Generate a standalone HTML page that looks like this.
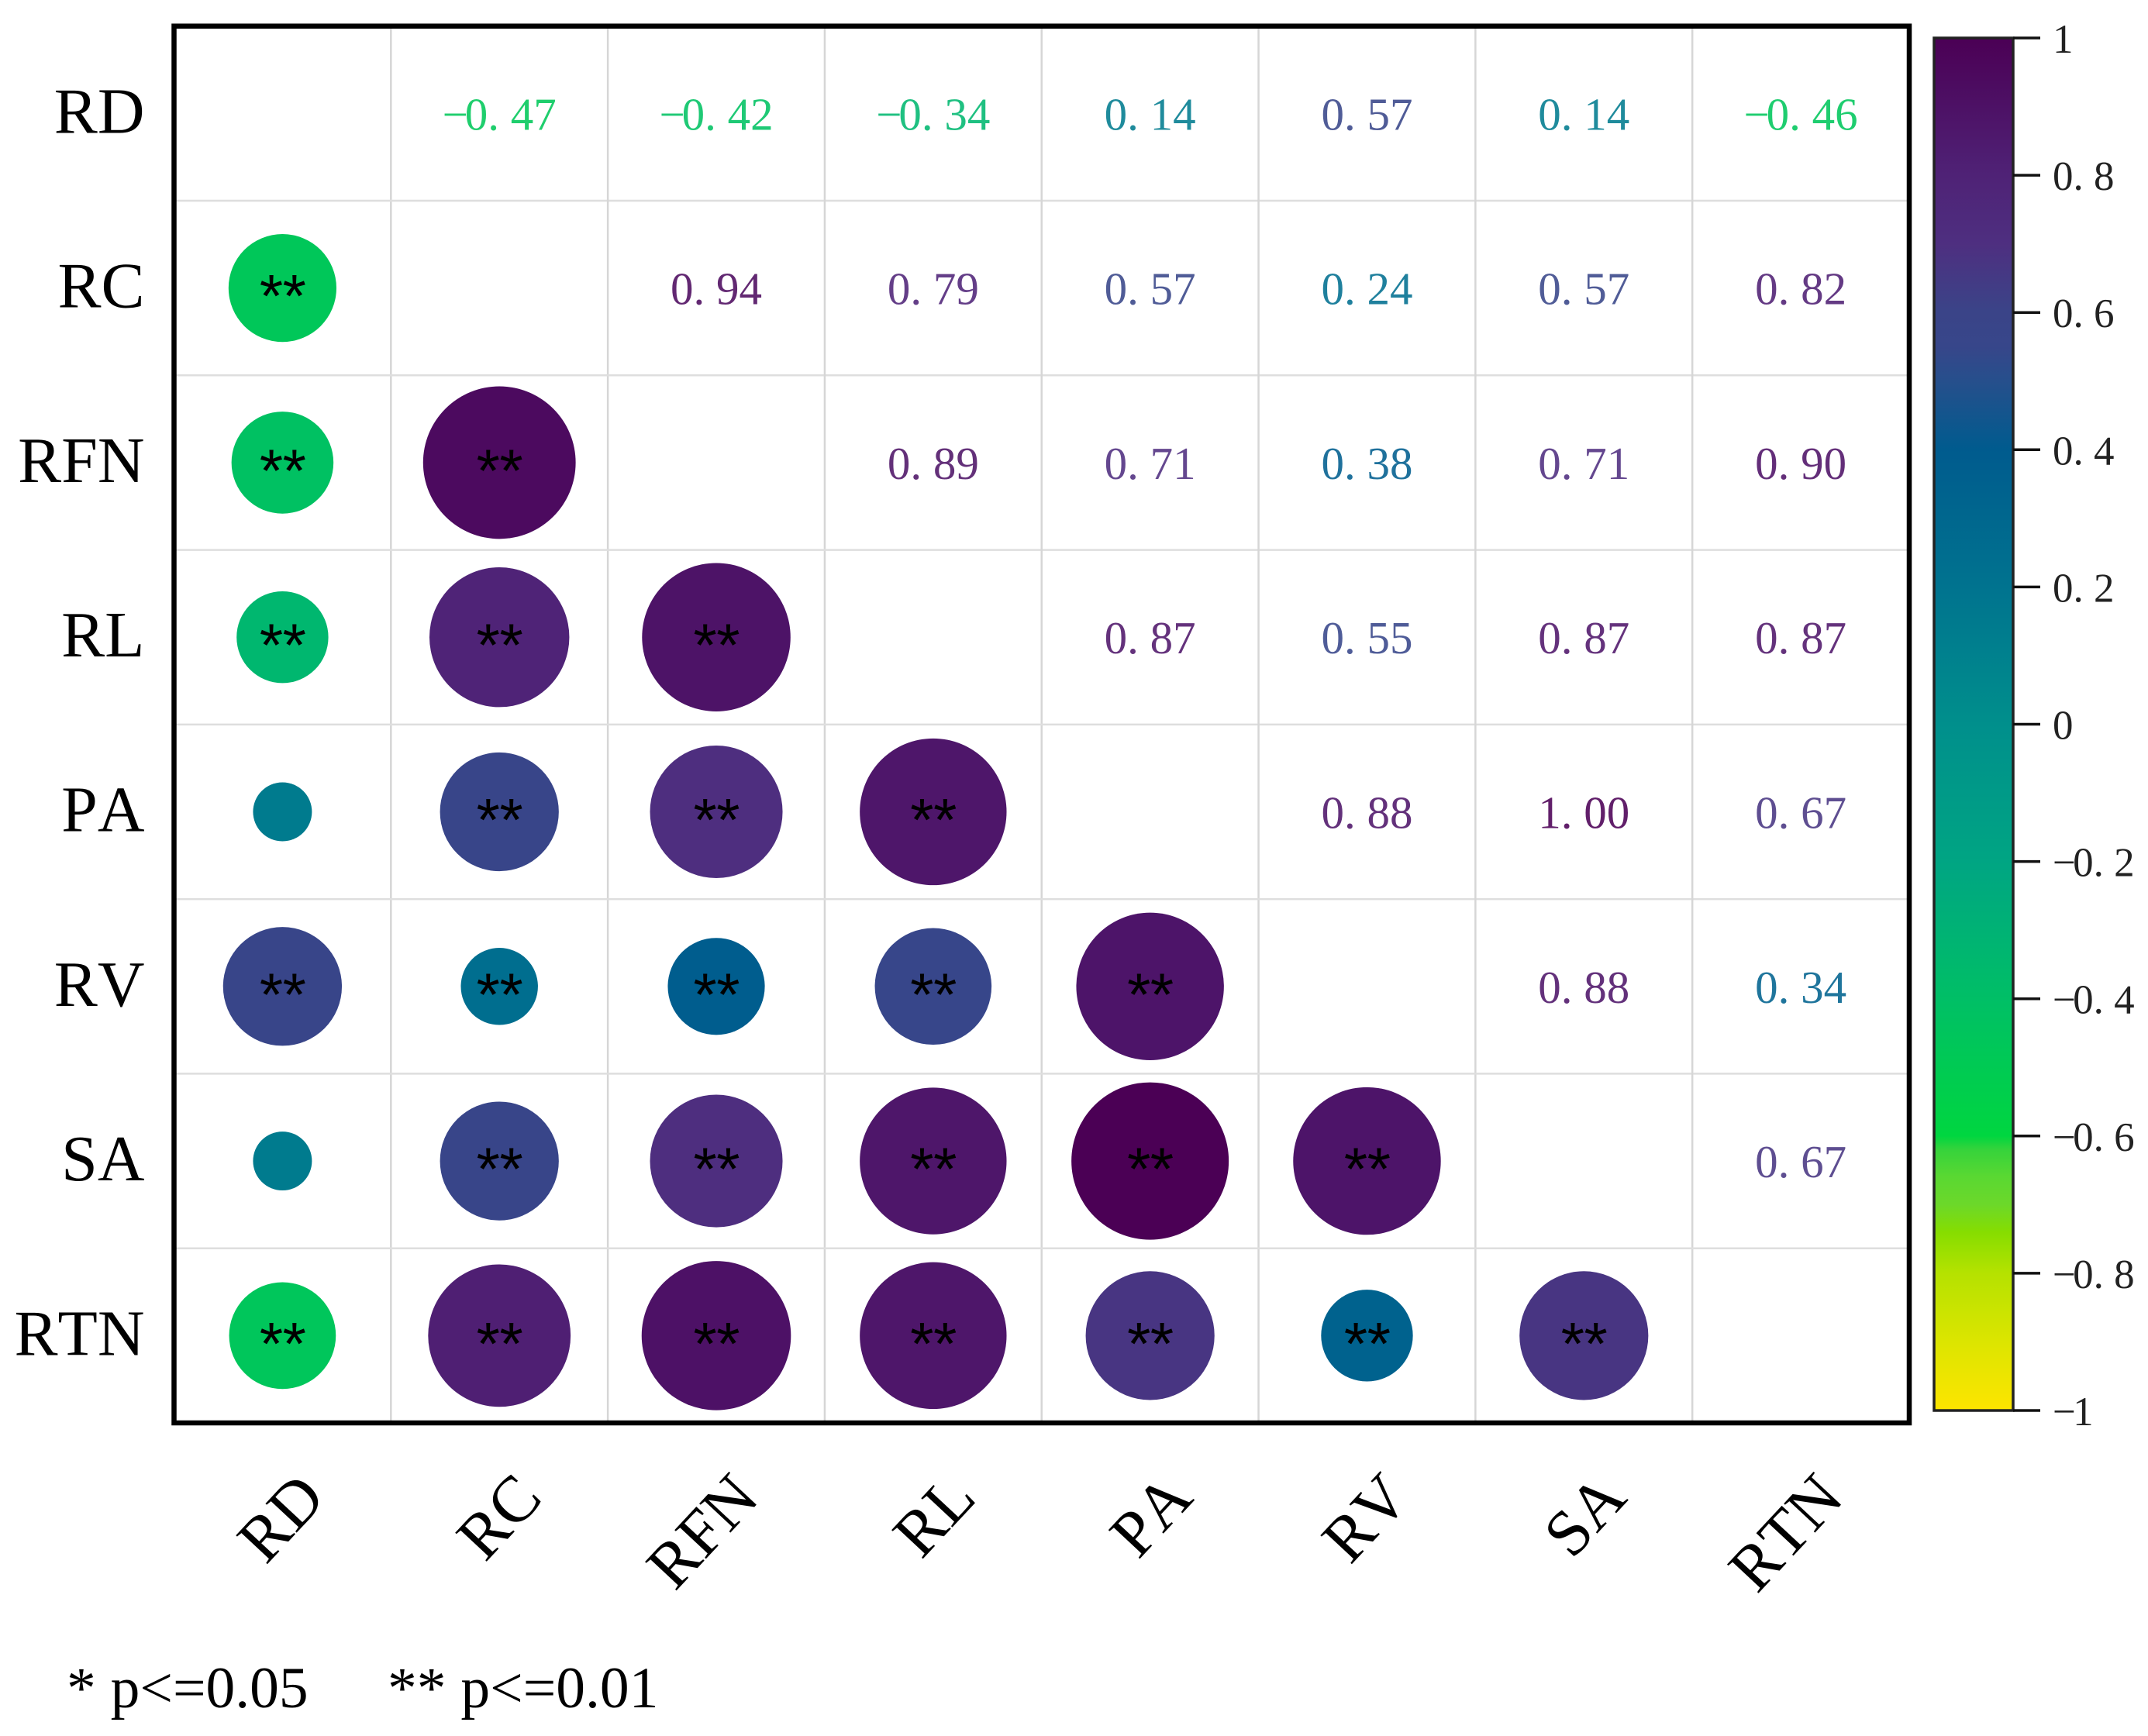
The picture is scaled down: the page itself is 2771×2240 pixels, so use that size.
<!DOCTYPE html>
<html lang="en">
<head>
<meta charset="utf-8">
<title>Correlation matrix of root traits</title>
<style>
html,body{margin:0;padding:0;background:#fff;}
svg{display:block;}
text{font-family:"Liberation Serif","Noto Serif CJK SC",serif;font-kerning:none;}
</style>
</head>
<body>
<svg id="chart" xmlns="http://www.w3.org/2000/svg" width="2771" height="2240" viewBox="0 0 2771 2240">
<rect x="0" y="0" width="2771" height="2240" fill="#ffffff"/>
<defs><linearGradient id="cbar-grad" x1="0" y1="0" x2="0" y2="1"></linearGradient></defs>
<text x="86" y="2203" font-size="75.5" fill="#000">* p&lt;=0.05</text>
<text x="500" y="2203" font-size="75.5" fill="#000">** p&lt;=0.01</text>
</svg>
<script>
var categories = ['RD','RC','RFN','RL','PA','RV','SA','RTN'];
var rowRD  = [1,-0.47,-0.42,-0.34,0.14,0.57,0.14,-0.46];
var rowRC  = [-0.47,1,0.94,0.79,0.57,0.24,0.57,0.82];
var rowRFN = [-0.42,0.94,1,0.89,0.71,0.38,0.71,0.90];
var rowRL  = [-0.34,0.79,0.89,1,0.87,0.55,0.87,0.87];
var rowPA  = [0.14,0.57,0.71,0.87,1,0.88,1.00,0.67];
var rowRV  = [0.57,0.24,0.38,0.55,0.88,1,0.88,0.34];
var rowSA  = [0.14,0.57,0.71,0.87,1.00,0.88,1,0.67];
var rowRTN = [-0.46,0.82,0.90,0.87,0.67,0.34,0.67,1];
var matrix = [rowRD,rowRC,rowRFN,rowRL,rowPA,rowRV,rowSA,rowRTN];
var starsRC  = ['**'];
var starsRFN = ['**','**'];
var starsRL  = ['**','**','**'];
var starsPA  = ['','**','**','**'];
var starsRV  = ['**','**','**','**','**'];
var starsSA  = ['','**','**','**','**','**'];
var starsRTN = ['**','**','**','**','**','**','**'];
var stars = [[],starsRC,starsRFN,starsRL,starsPA,starsRV,starsSA,starsRTN];
var colorbarTicks = [1,0.8,0.6,0.4,0.2,0,-0.2,-0.4,-0.6,-0.8,-1];
var colorbarLabels = ['1','0.8','0.6','0.4','0.2','0','-0.2','-0.4','-0.6','-0.8','-1'];
var colormapValues = [1,0.8,0.7,0.6,0.55,0.5,0.4,0.2,0,-0.2,-0.4,-0.6,-0.62,-0.66,-0.7,-0.74,-0.8,-0.9,-1];
var colormapColors = ['#4b0055','#4f2276','#4e2f80','#3a4488','#37468a','#264f8c','#005b8e','#00738f','#008f8c','#00a583','#00bf66','#00d640','#36d33b','#5ad832','#6cd82a','#86dd00','#b5e200','#dce500','#fde500'];

var svg = document.getElementById('chart');
var NS = 'http://www.w3.org/2000/svg';
var plotL = 224.5, plotR = 2463, plotT = 33.7, plotB = 1836;
var barL = 2495, barR = 2597, barT = 49, barB = 1820;
var maxRadius = 101.5;
var n = categories.length;

function colX(i){ return plotL + (i + 0.5) * (plotR - plotL) / n; }
function rowY(i){ return plotT + (i + 0.5) * (plotB - plotT) / n; }
function barY(v){ return barT + (1 - v) / 2 * (barB - barT); }
function radius(v){ return maxRadius * Math.sqrt(Math.abs(v)); }
function hexToRgb(h){ return [parseInt(h.substr(1,2),16),parseInt(h.substr(3,2),16),parseInt(h.substr(5,2),16)]; }
function colorOf(v){
  var c = Math.max(-1, Math.min(1, v));
  for (var i = 0; i < colormapValues.length - 1; i++){
    var a = colormapValues[i], b = colormapValues[i+1];
    if (c <= a && c >= b){
      var t = (a - c) / (a - b), p = hexToRgb(colormapColors[i]), q = hexToRgb(colormapColors[i+1]);
      return 'rgb(' + Math.round(p[0]+(q[0]-p[0])*t) + ',' + Math.round(p[1]+(q[1]-p[1])*t) + ',' + Math.round(p[2]+(q[2]-p[2])*t) + ')';
    }
  }
  return colormapColors[0];
}
function make(tag, attrs, parent){
  var el = document.createElementNS(NS, tag);
  for (var k in attrs) el.setAttribute(k, attrs[k]);
  (parent || svg).appendChild(el);
  return el;
}
function dottedText(el, label, fontSize){
  // the source font sets the period in a full half-width cell and a narrow minus sign
  var negative = label.charAt(0) === '-';
  var s = negative ? label.slice(1) : label;
  if (negative) {
    el.appendChild(document.createTextNode('\u2212'));
  }
  var dot = s.indexOf('.');
  var head = document.createElementNS(NS, 'tspan');
  if (negative) head.setAttribute('dx', -fontSize * 0.07);
  head.textContent = dot < 0 ? s : s.slice(0, dot + 1);
  el.appendChild(head);
  if (dot < 0) return;
  var tail = document.createElementNS(NS, 'tspan');
  tail.setAttribute('dx', fontSize * 0.25);
  tail.textContent = s.slice(dot + 1);
  el.appendChild(tail);
}

// grid lines
for (var g = 1; g < n; g++){
  var gx = plotL + g * (plotR - plotL) / n;
  var gv = make('line', {x1:gx, x2:gx, y1:plotT, y2:plotB, stroke:'#d6d6d6', 'stroke-width':2.5});
  
  
  var gy = plotT + g * (plotB - plotT) / n;
  var gh = make('line', {x1:plotL, x2:plotR, y1:gy, y2:gy, stroke:'#dedede', 'stroke-width':2.5});
  
  
}

// cells
for (var r = 0; r < n; r++){
  for (var c = 0; c < n; c++){
    var v = matrix[r][c];
    if (r > c){
      var dot = make('circle', {cx:colX(c), cy:rowY(r), r:radius(v), fill:colorOf(v)});
      
      
      if (stars[r][c]){
        var star = make('text', {x:colX(c) - 8, y:rowY(r) + 40, 'text-anchor':'middle', 'font-size':78, fill:'#000', 'letter-spacing':-17, style:'font-family:"Liberation Mono",monospace'});
        
        
        star.textContent = stars[r][c];
      }
    } else if (r < c){
      var val = make('text', {x:colX(c), y:rowY(r) + 21, 'text-anchor':'middle', 'font-size':59, fill:colorOf(v), 'fill-opacity':0.88});
      
      
      dottedText(val, v.toFixed(2), 59);
    }
  }
}

// plot frame
var frame = make('rect', {x:plotL, y:plotT, width:plotR - plotL, height:plotB - plotT, fill:'none', stroke:'#000', 'stroke-width':6.5});



// axis labels
for (var i = 0; i < n; i++){
  var yl = make('text', {x:186.5, y:rowY(i) + 25, 'text-anchor':'end', 'font-size':84, fill:'#000'});
  
  
  yl.textContent = categories[i];
  var ax = colX(i) + 58, ay = 1935;
  var xl = make('text', {x:ax, y:ay, 'text-anchor':'end', 'font-size':84, fill:'#000', transform:'rotate(-47 ' + ax + ' ' + ay + ')'});
  
  
  xl.textContent = categories[i];
}

// colour bar
var grad = document.getElementById('cbar-grad');
for (var s = 0; s < colormapValues.length; s++){
  var st = document.createElementNS(NS, 'stop');
  st.setAttribute('offset', (1 - colormapValues[s]) / 2);
  st.setAttribute('stop-color', colormapColors[s]);
  grad.appendChild(st);
}
var bar = make('rect', {x:barL, y:barT, width:barR - barL, height:barB - barT, fill:'url(#cbar-grad)', stroke:'#222', 'stroke-width':3.5});


for (var t = 0; t < colorbarTicks.length; t++){
  var ty = barY(colorbarTicks[t]);
  var tick = make('line', {x1:barR, x2:2632, y1:ty, y2:ty, stroke:'#111', 'stroke-width':3.5});
  
  
  var lab = make('text', {x:2648, y:ty + 19, 'font-size':53, fill:'#222'});
  
  
  dottedText(lab, colorbarLabels[t], 53);
}
</script>
</body>
</html>
